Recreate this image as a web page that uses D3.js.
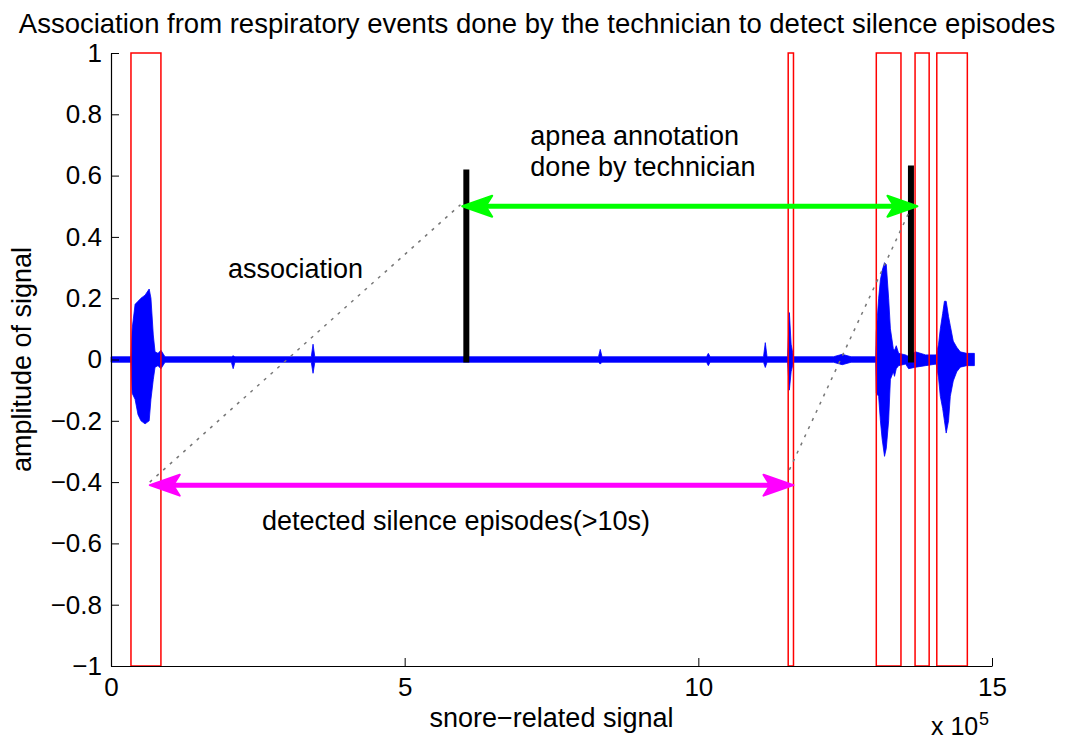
<!DOCTYPE html>
<html>
<head>
<meta charset="utf-8">
<script src="https://cdn.jsdelivr.net/npm/d3@7"></script>
<style>
  html, body { margin: 0; padding: 0; background: #fff; }
  svg { display: block; }
  text { font-family: "Liberation Sans", Arial, Helvetica, sans-serif; fill: #000; }
</style>
</head>
<body>
<svg id="chart" width="1065" height="740"></svg>
<script>
// ---------- data (x in units of 1e5 samples) ----------
const titleText = "Association from respiratory events done by the technician to detect silence episodes";
const xLabelText = "snore\u2212related signal";
const yLabelText = "amplitude of signal";

const xTicks = [0, 5, 10, 15];
const xTickLabels = ["0", "5", "10", "15"];
const yTicks = [-1, -0.8, -0.6, -0.4, -0.2, 0, 0.2, 0.4, 0.6, 0.8, 1];
const yTickLabels = ["\u22121", "\u22120.8", "\u22120.6", "\u22120.4", "\u22120.2", "0", "0.2", "0.4", "0.6", "0.8", "1"];

// signal envelope
const sigX = [0, 0.34, 0.36, 0.41, 0.46, 0.51, 0.58, 0.65, 0.68, 0.72, 0.75, 0.80, 0.85, 0.92,
  2.05, 2.08, 2.11,
  3.41, 3.44, 3.47,
  8.30, 8.33, 8.36,
  10.14, 10.17, 10.20,
  11.11, 11.14, 11.17,
  11.52, 11.55, 11.58, 11.62,
  12.30, 12.45, 12.60,
  13.02, 13.03, 13.07, 13.10, 13.13, 13.17, 13.20, 13.24, 13.27, 13.32, 13.34, 13.37, 13.41, 13.53, 13.58, 13.70, 13.87,
  14.05, 14.09, 14.12, 14.16, 14.19, 14.22, 14.26, 14.29, 14.34, 14.40, 14.46, 14.57, 14.70];
const sigMax = [0.009, 0.009, 0.10, 0.18, 0.19, 0.20, 0.21, 0.23, 0.20, 0.08, 0.025, 0.02, 0.03, 0.009,
  0.009, 0.012, 0.009,
  0.009, 0.05, 0.009,
  0.009, 0.033, 0.009,
  0.009, 0.02, 0.009,
  0.009, 0.055, 0.009,
  0.009, 0.153, 0.05, 0.009,
  0.009, 0.017, 0.009,
  0.009, 0.09, 0.20, 0.26, 0.29, 0.316, 0.31, 0.20, 0.10, 0.035, 0.03, 0.045, 0.02, 0.015, 0.01, 0.025, 0.015,
  0.015, 0.05, 0.10, 0.15, 0.19, 0.19, 0.14, 0.11, 0.06, 0.04, 0.025, 0.02, 0.02];
const sigMin = [-0.009, -0.009, -0.11, -0.13, -0.18, -0.20, -0.21, -0.20, -0.13, -0.065, -0.025, -0.02, -0.03, -0.009,
  -0.009, -0.03, -0.009,
  -0.009, -0.045, -0.009,
  -0.009, -0.015, -0.009,
  -0.009, -0.02, -0.009,
  -0.009, -0.026, -0.009,
  -0.009, -0.10, -0.04, -0.009,
  -0.009, -0.017, -0.009,
  -0.009, -0.11, -0.12, -0.20, -0.26, -0.316, -0.29, -0.20, -0.065, -0.04, -0.055, -0.03, -0.02, -0.015, -0.03, -0.025, -0.02,
  -0.015, -0.06, -0.12, -0.16, -0.20, -0.24, -0.20, -0.12, -0.07, -0.04, -0.025, -0.02, -0.02];

// detected silence episode boxes (start, end)
const boxStart = [0.34, 11.53, 13.03, 13.69, 14.06];
const boxEnd   = [0.85, 11.62, 13.45, 13.93, 14.58];

// apnea annotations (position, height)
const apneaX = [6.05, 13.62];
const apneaH = [0.62, 0.633];

// association dotted lines
const assocX1 = [0.66, 11.55];
const assocY1 = [-0.40, -0.36];
const assocX2 = [5.95, 13.61];
const assocY2 = [0.505, 0.49];

// arrows
const arrowNames = ["green", "magenta"];
const arrowX1 = [5.98, 0.66];
const arrowX2 = [13.73, 11.62];
const arrowY = [0.5, -0.41];
const arrowColor = ["#00ff00", "#ff00ff"];

// text annotations (data coords)
const noteText = ["apnea annotation", "done by technician", "association", "detected silence episodes(>10s)"];
const noteX = [7.14, 7.14, 1.99, 2.57];
const noteY = [0.70, 0.60, 0.267, -0.555];

// ---------- drawing ----------
const svg = d3.select("#chart");
const mLeft = 111, mRight = 992, mTop = 53, mBottom = 666;
const x = d3.scaleLinear().domain([0, 15]).range([mLeft, mRight]);
const y = d3.scaleLinear().domain([-1, 1]).range([mBottom, mTop]);
const FS = 27;

// signal
const sig = sigX.map((v, i) => ({ x: v, hi: sigMax[i], lo: sigMin[i] }));
svg.append("path")
  .datum(sig)
  .attr("d", d3.area().x(d => x(d.x)).y0(d => y(d.lo)).y1(d => y(d.hi)))
  .attr("fill", "#0000ff")
  .attr("stroke", "#0000ff")
  .attr("stroke-width", 0.8);

// red boxes
svg.append("g").selectAll("rect")
  .data(boxStart.map((s, i) => ({ s, e: boxEnd[i] })))
  .join("rect")
  .attr("x", d => x(d.s)).attr("width", d => x(d.e) - x(d.s))
  .attr("y", y(1)).attr("height", y(-1) - y(1))
  .attr("fill", "none").attr("stroke", "#ff0000").attr("stroke-width", 1.5);

// black apnea bars
svg.append("g").selectAll("line")
  .data(apneaX.map((v, i) => ({ x: v, h: apneaH[i] })))
  .join("line")
  .attr("x1", d => x(d.x)).attr("x2", d => x(d.x))
  .attr("y1", y(-0.01)).attr("y2", d => y(d.h))
  .attr("stroke", "#000").attr("stroke-width", 6);

// dotted association lines
svg.append("g").selectAll("line")
  .data(assocX1.map((v, i) => ({ x1: v, y1: assocY1[i], x2: assocX2[i], y2: assocY2[i] })))
  .join("line")
  .attr("x1", d => x(d.x1)).attr("y1", d => y(d.y1))
  .attr("x2", d => x(d.x2)).attr("y2", d => y(d.y2))
  .attr("stroke", "#777").attr("stroke-width", 1.5)
  .attr("stroke-dasharray", "3,6");

// double arrows
function head(g, tipX, tipY, dir, color) {
  const L = 30, h = 10.5;
  const pts = [[tipX, tipY], [tipX + dir * L, tipY - h], [tipX + dir * L * 0.78, tipY], [tipX + dir * L, tipY + h]];
  g.append("polygon").attr("points", pts.map(p => p.join(",")).join(" "))
    .attr("fill", color).attr("stroke", color).attr("stroke-width", 2).attr("stroke-linejoin", "round");
}
arrowNames.forEach((n, i) => {
  const g = svg.append("g");
  const x1 = x(arrowX1[i]), x2 = x(arrowX2[i]), yy = y(arrowY[i]);
  g.append("line").attr("x1", x1 + 10).attr("x2", x2 - 10).attr("y1", yy).attr("y2", yy)
    .attr("stroke", arrowColor[i]).attr("stroke-width", 5);
  head(g, x1, yy, 1, arrowColor[i]);
  head(g, x2, yy, -1, arrowColor[i]);
});

// axes
const yAxis = d3.axisLeft(y).tickValues(yTicks)
  .tickFormat((d, i) => yTickLabels[i])
  .tickSizeInner(-8).tickSizeOuter(0).tickPadding(9);
const gy = svg.append("g").attr("transform", `translate(${mLeft},0)`).call(yAxis);
const xAxis = d3.axisBottom(x).tickValues(xTicks)
  .tickFormat((d, i) => xTickLabels[i])
  .tickSizeInner(-8).tickSizeOuter(0).tickPadding(12);
const gx = svg.append("g").attr("transform", `translate(0,${mBottom})`).call(xAxis);
[gx, gy].forEach(g => {
  g.selectAll("text").attr("font-size", 26).attr("font-family", "Liberation Sans, Arial, sans-serif").attr("fill", "#000");
  g.selectAll("line").attr("stroke", "#000").attr("stroke-width", 1);
  g.select(".domain").attr("stroke", "#000").attr("stroke-width", 1.2);
});

// title and labels
svg.append("text").attr("x", 537).attr("y", 33).attr("text-anchor", "middle")
  .attr("font-size", 27.5).text(titleText);
svg.append("text").attr("x", (mLeft + mRight) / 2).attr("y", 727).attr("text-anchor", "middle")
  .attr("font-size", FS).text(xLabelText);
svg.append("text").attr("transform", `translate(31,${(mTop + mBottom) / 2}) rotate(-90)`)
  .attr("text-anchor", "middle").attr("font-size", FS).text(yLabelText);
svg.append("text").attr("x", 931).attr("y", 735).attr("font-size", 25).text("x 10");
svg.append("text").attr("x", 979).attr("y", 725).attr("font-size", 18).text("5");

// annotations
svg.append("g").selectAll("text")
  .data(noteText.map((t, i) => ({ t, x: noteX[i], y: noteY[i] })))
  .join("text")
  .attr("x", d => x(d.x)).attr("y", d => y(d.y))
  .attr("font-size", FS).text(d => d.t);
</script>
</body>
</html>
